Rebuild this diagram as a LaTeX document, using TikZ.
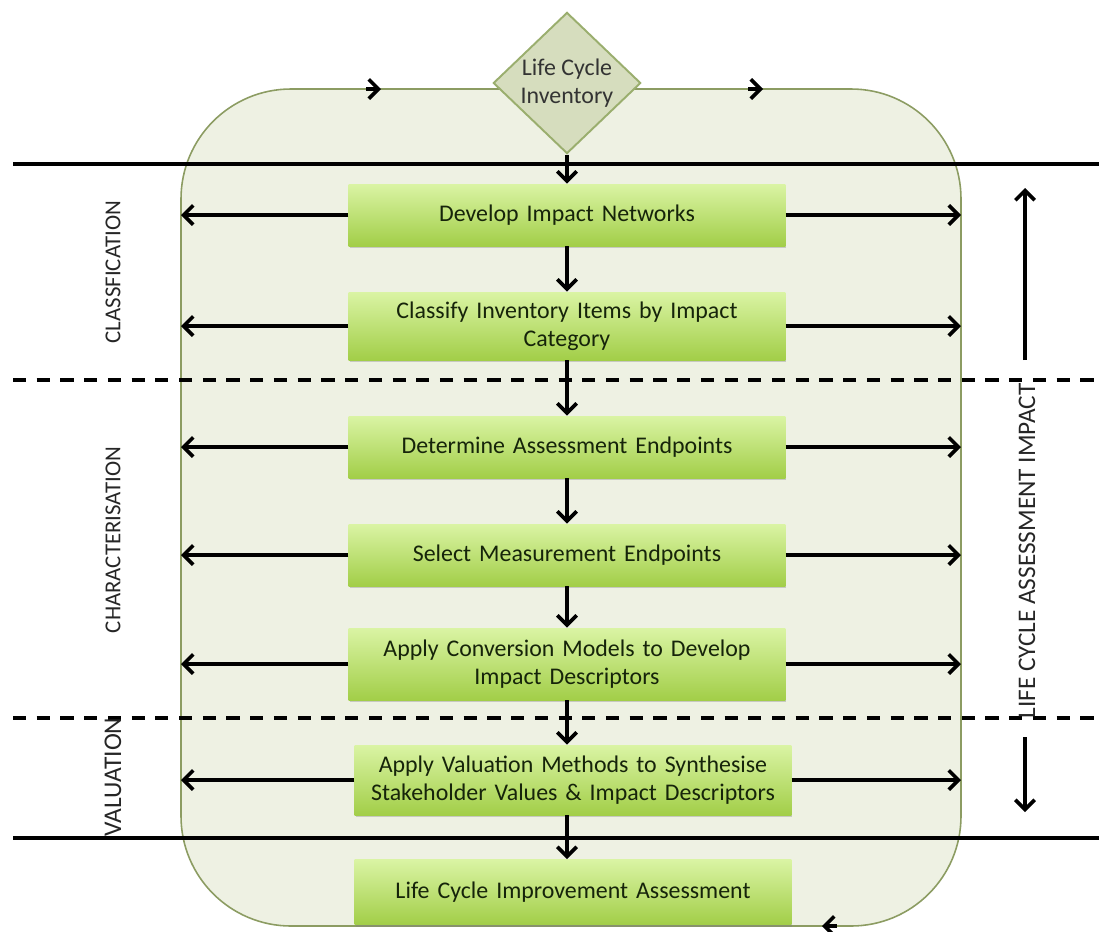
\documentclass[tikz,border=0pt]{standalone}
\usepackage{fontspec}
\setmainfont{Carlito}
\usetikzlibrary{arrows.meta,shapes.geometric,shadows}
\definecolor{contfill}{HTML}{EEF1E3}
\definecolor{contdraw}{HTML}{8C9C62}
\definecolor{diafill}{HTML}{D6DDBE}
\definecolor{diadraw}{HTML}{9AAE6E}
\definecolor{boxtop}{HTML}{DAF4A4}
\definecolor{boxbot}{HTML}{A2CE48}
\definecolor{boxtext}{HTML}{16240A}
\tikzset{
  arr/.style={line width=2.1pt,-{Straight Barb[length=5.5pt,width=11pt,line width=2.1pt]}},
  chev/.style={line width=2.1pt,-{Straight Barb[length=5.5pt,width=11pt,line width=2.1pt]}},
  stepbox/.style={rectangle,top color=boxtop,bottom color=boxbot,draw=none,
    minimum width=8.7cm,minimum height=1.24cm,text width=8.5cm,align=center,
    font=\fontsize{13.6pt}{16pt}\selectfont,text=boxtext,
    drop shadow={shadow xshift=0.6pt,shadow yshift=-1.2pt,opacity=0.35}},
  sidelabel/.style={rotate=90,font=\fontsize{13pt}{15pt}\selectfont,text=black!85},
  hsolid/.style={line width=2.2pt},
  hdash/.style={line width=2.6pt,dash pattern=on 7.5pt off 6pt},
}
\begin{document}
\begin{tikzpicture}[x=0.02cm,y=-0.02cm]
\useasboundingbox (0,0) rectangle (1099,931);
% container cycle
\draw[fill=contfill,draw=contdraw,line width=0.9pt,rounded corners=2.2cm] (181,89) rectangle (961,926);
\coordinate (c1a) at (366,89); \coordinate (c1b) at (381,89);
\coordinate (c2a) at (748,89); \coordinate (c2b) at (763,89);
\coordinate (c3a) at (837,926); \coordinate (c3b) at (822,926);
\draw[chev] (c1a) -- (c1b);
\draw[chev] (c2a) -- (c2b);
\draw[chev] (c3a) -- (c3b);
% horizontal separators
\coordinate (h1l) at (13,164); \coordinate (h1r) at (1099,164);
\coordinate (h2l) at (13,380); \coordinate (h2r) at (1099,380);
\coordinate (h3l) at (13,718); \coordinate (h3r) at (1099,718);
\coordinate (h4l) at (13,838); \coordinate (h4r) at (1099,838);
\draw[hsolid] (h1l) -- (h1r);
\draw[hdash] (h2l) -- (h2r);
\draw[hdash] (h3l) -- (h3r);
\draw[hsolid] (h4l) -- (h4r);
% diamond
\node[diamond,aspect=1,fill=diafill,draw=diadraw,line width=1.1pt,minimum width=2.95cm,
  inner sep=0pt,align=center,font=\fontsize{13.6pt}{16pt}\selectfont,text=black!80] (lci) at (567,83) {Life Cycle\\Inventory};
% boxes
\node[stepbox] (b1) at (567,215) {Develop Impact Networks};
\node[stepbox,minimum height=1.36cm] (b2) at (567,326) {Classify Inventory Items by Impact\\Category};
\node[stepbox] (b3) at (567,447) {Determine Assessment Endpoints};
\node[stepbox] (b4) at (567,555) {Select Measurement Endpoints};
\node[stepbox,minimum height=1.44cm] (b5) at (567,664) {Apply Conversion Models to Develop\\Impact Descriptors};
\node[stepbox,minimum height=1.40cm,minimum width=8.7cm] (b6) at (573,780) {Apply Valuation Methods to Synthesise\\Stakeholder Values \& Impact Descriptors};
\node[stepbox,minimum height=1.30cm] (b7) at (573,892) {Life Cycle Improvement Assessment};
% vertical flow
\draw[arr] (lci.south) -- (lci.south |- b1.north);
\draw[arr] (b1.south -| lci.south) -- (b2.north -| lci.south);
\draw[arr] (b2.south -| lci.south) -- (b3.north -| lci.south);
\draw[arr] (b3.south -| lci.south) -- (b4.north -| lci.south);
\draw[arr] (b4.south -| lci.south) -- (b5.north -| lci.south);
\draw[arr] (b5.south -| lci.south) -- (b6.north -| lci.south);
\draw[arr] (b6.south -| lci.south) -- (b7.north -| lci.south);
% side arrows
\coordinate (L) at (181,0); \coordinate (R) at (961,0);
\foreach \b in {b1,b2,b3,b4,b5,b6}{
  \draw[arr] (\b.west) -- (\b.west -| L);
  \draw[arr] (\b.east) -- (\b.east -| R);
}
% left labels
\node[sidelabel] (lclass) at (113,272) {CLASSFICATION};
\node[sidelabel] (lchar) at (113,540) {CHARACTERISATION};
\node[sidelabel,font=\fontsize{14.5pt}{16pt}\selectfont] (lval) at (113,777) {VALUATION};
% right label and arrows
\node[sidelabel,font=\fontsize{14.4pt}{16pt}\selectfont] (lcia) at (1027,551) {LIFE CYCLE ASSESSMENT IMPACT};
\coordinate (ua) at (1025,360); \coordinate (ub) at (1025,188);
\coordinate (da) at (1025,737); \coordinate (db) at (1025,812);
\draw[arr] (ua) -- (ub);
\draw[arr] (da) -- (db);
\end{tikzpicture}
\end{document}
